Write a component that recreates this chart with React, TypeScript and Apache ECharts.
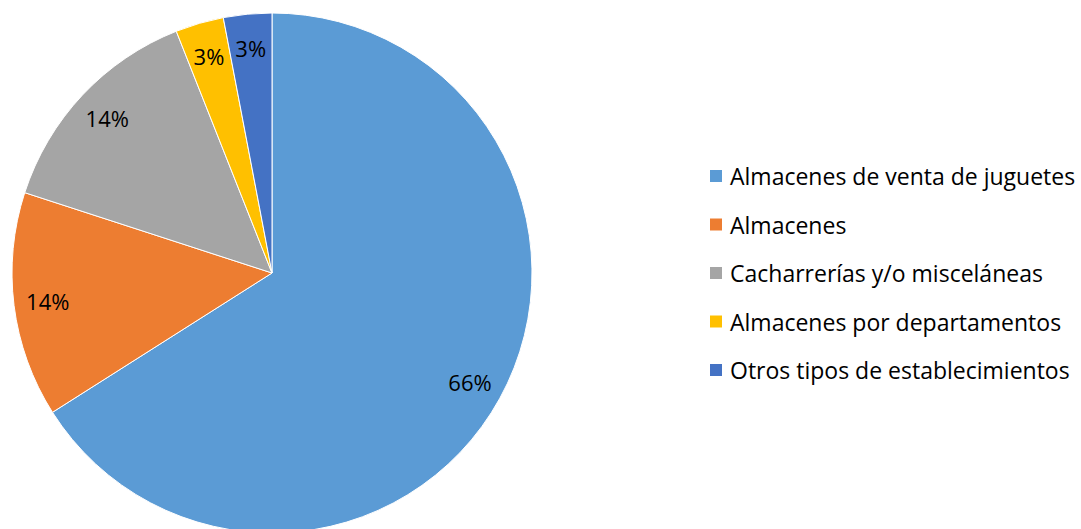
import React, { useEffect, useRef } from "react";
import * as echarts from "echarts";

const categories = [
  "Almacenes de venta de juguetes",
  "Almacenes",
  "Cacharrerías y/o misceláneas",
  "Almacenes por departamentos",
  "Otros tipos de establecimientos",
];
const values = [66, 14, 14, 3, 3];
const colors = ["#5B9BD5", "#ED7D31", "#A5A5A5", "#FFC000", "#4472C4"];

export default function App() {
  const ref = useRef<HTMLDivElement>(null);
  useEffect(() => {
    document.body.style.margin = "0";
    const chart = echarts.init(ref.current!, null, { renderer: "svg" });
    const data = categories.map((name, i) => ({ name, value: values[i] }));
    const font = "'Open Sans', 'Noto Sans', sans-serif";
    chart.setOption({
      animation: false,
      color: colors,
      legend: {
        orient: "vertical",
        left: 703,
        top: 159.5,
        itemWidth: 14,
        itemHeight: 14,
        itemGap: 25.5,
        icon: "rect",
        data: categories,
        textStyle: { fontFamily: font, fontSize: 23, color: "#000", padding: [0, 0, 0, 2] },
      },
      series: [
        {
          type: "pie",
          center: [272, 273],
          radius: [0, 260],
          startAngle: 90,
          clockwise: true,
          data,
          label: { show: false },
          labelLine: { show: false },
          itemStyle: { borderColor: "#fff", borderWidth: 1 },
          emphasis: { disabled: true },
        },
        {
          type: "pie",
          center: [272, 273],
          radius: [186, 260],
          startAngle: 90,
          clockwise: true,
          data,
          silent: true,
          legendHoverLink: false,
          itemStyle: { color: "transparent" },
          label: {
            show: true,
            position: "inside",
            formatter: "{c}%",
            fontFamily: font,
            fontSize: 22,
            color: "#000",
          },
          labelLine: { show: false },
          emphasis: { disabled: true },
        },
      ],
    });
    return () => chart.dispose();
  }, []);
  return <div ref={ref} style={{ width: 1081, height: 529 }} />;
}
